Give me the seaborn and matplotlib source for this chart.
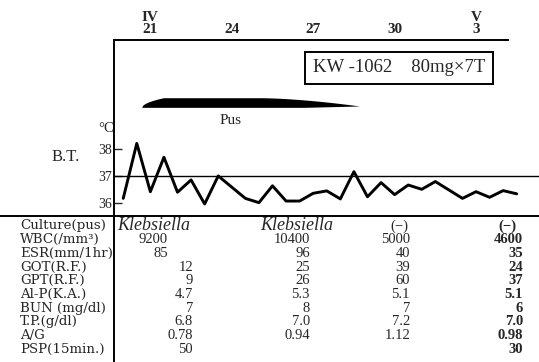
import numpy as np
import pandas as pd
import matplotlib
matplotlib.use("Agg")
import matplotlib.pyplot as plt
import seaborn as sns
from matplotlib.lines import Line2D
from matplotlib.patches import Polygon

# ---------------- data ----------------
times = [20.0, 20.5, 21.0, 21.5, 22.0, 22.5, 23.0, 23.5,
         24.5, 25.0, 25.5, 26.0, 26.5, 27.0, 27.5, 28.0, 28.5, 29.0,
         29.5, 30.0, 30.5, 31.0, 31.5,
         32.5, 33.0, 33.5, 34.0, 34.5]
temps = [36.16, 38.22, 36.41, 37.70, 36.39, 36.85, 35.95, 37.0,
         36.16, 36.0, 36.63, 36.06, 36.06, 36.35, 36.44, 36.14, 37.16, 36.22,
         36.75, 36.30, 36.66, 36.50, 36.79,
         36.16, 36.41, 36.20, 36.45, 36.33]
tick_days = [21, 24, 27, 30, 33]
tick_labels = ["IV\n21", "24", "27", "30", "V\n3"]
temp_ticks = [36, 37, 38]
normal_temp = 37
pus_start, pus_end = 20.7, 28.7
drug_label = "KW -1062    80mg×7T"

row_labels = ["Culture(pus)", "WBC(/mm³)", "ESR(mm/1hr)", "GOT(R.F.)", "GPT(R.F.)",
              "Al-P(K.A.)", "BUN (mg/dl)", "T.P.(g/dl)", "A/G", "PSP(15min.)"]
culture = ["Klebsiella", "Klebsiella", "(−)", "(−)"]
wbc = ["9200", "10400", "5000", "4600"]
esr = ["85", "96", "40", "35"]
got = ["12", "25", "39", "24"]
gpt = ["9", "26", "60", "37"]
alp = ["4.7", "5.3", "5.1", "5.1"]
bun = ["7", "8", "7", "6"]
tp = ["6.8", "7.0", "7.2", "7.0"]
ag = ["0.78", "0.94", "1.12", "0.98"]
psp = ["50", "", "", "30"]

# ---------------- figure ----------------
sns.set_theme(style="white")
plt.rcParams['font.family'] = ['Liberation Serif', 'DejaVu Serif', 'DejaVu Sans']

W, H = 539, 362
fig = plt.figure(figsize=(W / 100, H / 100), dpi=100)

ov = fig.add_axes([0, 0, 1, 1], zorder=0)
ov.set_xlim(0, W)
ov.set_ylim(H, 0)
ov.axis("off")

ax = fig.add_axes([114 / W, 1 - 216 / H, 425 / W, 176 / H], zorder=1)
ax.patch.set_alpha(0)

df = pd.DataFrame({"day": times, "temp": temps})
sns.lineplot(data=df, x="day", y="temp", ax=ax, color="black", lw=2.1,
             estimator=None, sort=False)
ax.axhline(normal_temp, color="black", lw=1.0)

x0, x1 = 19.66, 35.32
ax.set_xlim(x0, x1)
ax.set_ylim(35.5, 42.09)
ax.set_xlabel("")
ax.set_ylabel("")

ax.xaxis.tick_top()
ax.set_xticks(tick_days)
ax.set_xticklabels(tick_labels, fontsize=11, linespacing=0.85, fontweight="bold")
ax.tick_params(axis="x", length=0, pad=3)
ax.set_yticks(temp_ticks)
ax.set_yticklabels([str(t) for t in temp_ticks], fontsize=10)
ax.tick_params(axis="y", direction="in", length=6, width=1, pad=1.5, left=True)

for s in ["right", "bottom"]:
    ax.spines[s].set_visible(False)
ax.spines["left"].set_linewidth(1.4)
ax.spines["top"].set_linewidth(1.4)
ax.spines["top"].set_bounds(x0, 34.17)
for s in ["left", "top"]:
    ax.spines[s].set_color("black")

# Pus bar (tapered shape)
t = np.linspace(0, 1, 300)
xs = pus_start + (pus_end - pus_start) * t
base = 39.55
h = 0.36
top_prof = np.where(t < 0.1, np.sqrt(np.clip(t / 0.1, 0, 1)), 1.0)
top_prof = np.where(t > 0.55, 1.0 - 0.85 * ((t - 0.55) / 0.45) ** 1.6, top_prof)
bot = base + 0.05 * np.clip((t - 0.75) / 0.25, 0, 1)
top = base + h * top_prof
poly = np.vstack([np.column_stack([xs, top]), np.column_stack([xs[::-1], bot[::-1]])])
ax.add_patch(Polygon(poly, closed=True, color="black", lw=0))
ax.text((pus_start + pus_end) / 2 - 0.75, base - 0.22, "Pus", ha="center", va="top",
        fontsize=11)

# annotations
ov.text(106, 129, "°C", ha="center", va="center", fontsize=10.5)
ov.text(66, 157, "B.T.", ha="center", va="center", fontsize=12)
ov.text(399, 68, drug_label, ha="center", va="center", fontsize=13.5,
        bbox=dict(boxstyle="square,pad=0.4", fc="white", ec="black", lw=1.4))

# frame lines for the table
ov.add_line(Line2D([0, W], [216, 216], color="black", lw=1.4))
ov.add_line(Line2D([114, 114], [216, H], color="black", lw=1.4))

# table
rows = [wbc, esr, got, gpt, alp, bun, tp, ag, psp]
y0, dy = 226, 13.7
for k, lab in enumerate(row_labels):
    ov.text(20, y0 + k * dy, lab, ha="left", va="center", fontsize=9.6,
            family=["DejaVu Serif"])

ov.text(117, y0, culture[0], ha="left", va="center", fontsize=13, style="italic")
ov.text(297, y0, culture[1], ha="center", va="center", fontsize=13, style="italic")
ov.text(399, y0, culture[2], ha="center", va="center", fontsize=10.5)
ov.text(507, y0, culture[3], ha="center", va="center", fontsize=10.5, fontweight="bold")

col_right = [193, 310, 410, 523]
for r, vals in enumerate(rows):
    y = y0 + (r + 1) * dy
    for c, v in enumerate(vals):
        if not v:
            continue
        xr = col_right[c]
        if c == 0 and r < 2:
            xr = 168
        ov.text(xr, y, v, ha="right", va="center", fontsize=10.5,
                fontweight="bold" if c == 3 else "normal")

fig.savefig("out.png", dpi=100)
